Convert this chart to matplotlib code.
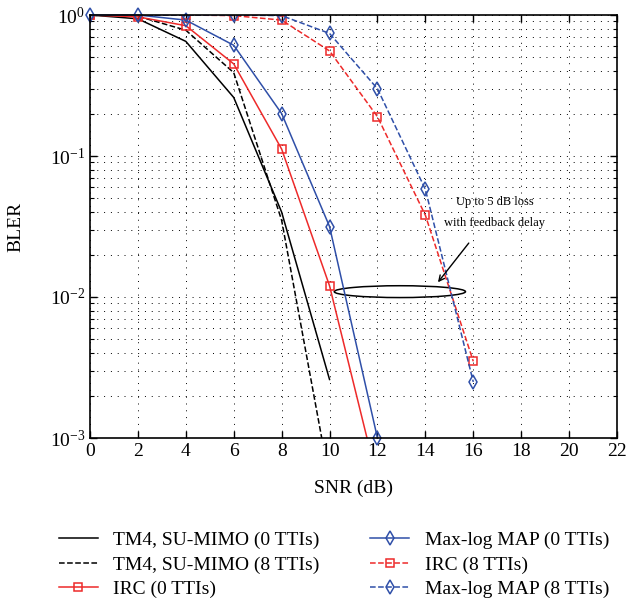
import numpy as np
import matplotlib
matplotlib.use("Agg")
from matplotlib import pyplot as plt
from matplotlib.patches import Ellipse
from matplotlib.ticker import LogLocator, NullFormatter

plt.rcParams['font.family'] = ['Liberation Serif', 'DejaVu Serif']
plt.rcParams['mathtext.fontset'] = 'custom'
plt.rcParams['mathtext.rm'] = 'Liberation Serif'
plt.rcParams['mathtext.it'] = 'Liberation Serif:italic'

snr = [0, 2, 4, 6, 8, 10, 12, 14, 16]

# BLER values
tm4_0 = [1.0, 0.94, 0.65, 0.26, 0.040, 0.0026]
tm4_8 = [1.0, 0.98, 0.78, 0.39, 0.035, 0.0005]
irc_0 = [1.0, 0.97, 0.84, 0.45, 0.112, 0.012, 0.0005]
mlm_0 = [1.0, 1.0, 0.92, 0.61, 0.20, 0.0316, 0.001]
irc_8 = [1.0, 1.0, 1.0, 0.99, 0.92, 0.556, 0.19, 0.038, 0.0035]
mlm_8 = [1.0, 1.0, 1.0, 1.0, 0.99, 0.74, 0.30, 0.058, 0.0025]

red = '#ee2a2a'
blue = '#2f4fa8'

fig = plt.figure(figsize=(6.37, 6.01), dpi=100)
ax = fig.add_axes([90 / 637, 1 - 438 / 601, 527 / 637, 423 / 601])

ax.semilogy(snr[:len(tm4_0)], tm4_0, '-', color='k', lw=1.1, label='TM4, SU-MIMO (0 TTIs)')
ax.semilogy(snr[:len(tm4_8)], tm4_8, '--', color='k', lw=1.1, label='TM4, SU-MIMO (8 TTIs)')
ax.semilogy(snr[:len(irc_0)], irc_0, '-', color=red, lw=1.1, marker='s', ms=6,
            mfc='none', mew=1.1, label='IRC (0 TTIs)')
ax.semilogy(snr[:len(mlm_0)], mlm_0, '-', color=blue, lw=1.1, marker='d', ms=7,
            mfc='none', mew=1.1, label='Max-log MAP (0 TTIs)', clip_on=False)
ax.semilogy(snr[:len(irc_8)], irc_8, '--', color=red, lw=1.1, marker='s', ms=6,
            mfc='none', mew=1.1, label='IRC (8 TTIs)')
ax.semilogy(snr[:len(mlm_8)], mlm_8, '--', color=blue, lw=1.1, marker='d', ms=7,
            mfc='none', mew=1.1, label='Max-log MAP (8 TTIs)')

ax.set_xlim(0, 22)
ax.set_ylim(1e-3, 1)
ax.set_xticks(range(0, 23, 2))
ax.yaxis.set_major_locator(LogLocator(base=10, numticks=10))
ax.yaxis.set_minor_locator(LogLocator(base=10, subs=np.arange(2, 10), numticks=20))
ax.yaxis.set_minor_formatter(NullFormatter())
ax.tick_params(which='both', direction='in', top=True, right=True, labelsize=14)
ax.tick_params(which='major', length=5, width=1)
ax.tick_params(which='minor', length=3, width=0.8)
for s in ax.spines.values():
    s.set_linewidth(1.2)

ax.grid(True, which='major', axis='both', color='k', ls=(0, (1, 6)), lw=0.7)
ax.grid(True, which='minor', axis='y', color='k', ls=(0, (1, 6)), lw=0.7)

ax.set_xlabel('SNR (dB)', fontsize=14, labelpad=14)
ax.set_ylabel('BLER', fontsize=14, labelpad=18)

# annotation
ax.add_patch(Ellipse((0.588, 0.346), 0.249, 0.028, transform=ax.transAxes,
                     fill=False, ec='k', lw=1.1))
ax.annotate('', xy=(0.657, 0.363), xytext=(0.722, 0.466), xycoords='axes fraction',
            arrowprops=dict(arrowstyle='->', color='k', lw=1.0))
ax.text(0.768, 0.559, 'Up to 5 dB loss', transform=ax.transAxes, ha='center',
        va='center', fontsize=9)
ax.text(0.768, 0.508, 'with feedback delay', transform=ax.transAxes, ha='center',
        va='center', fontsize=9)

fig.legend(loc='upper center', bbox_to_anchor=(334 / 637, 1 - 514 / 601), ncol=2,
           frameon=False, fontsize=14, handlelength=2.0, handletextpad=0.8,
           columnspacing=2.6, labelspacing=0.35)

fig.savefig('out.png', dpi=100)
